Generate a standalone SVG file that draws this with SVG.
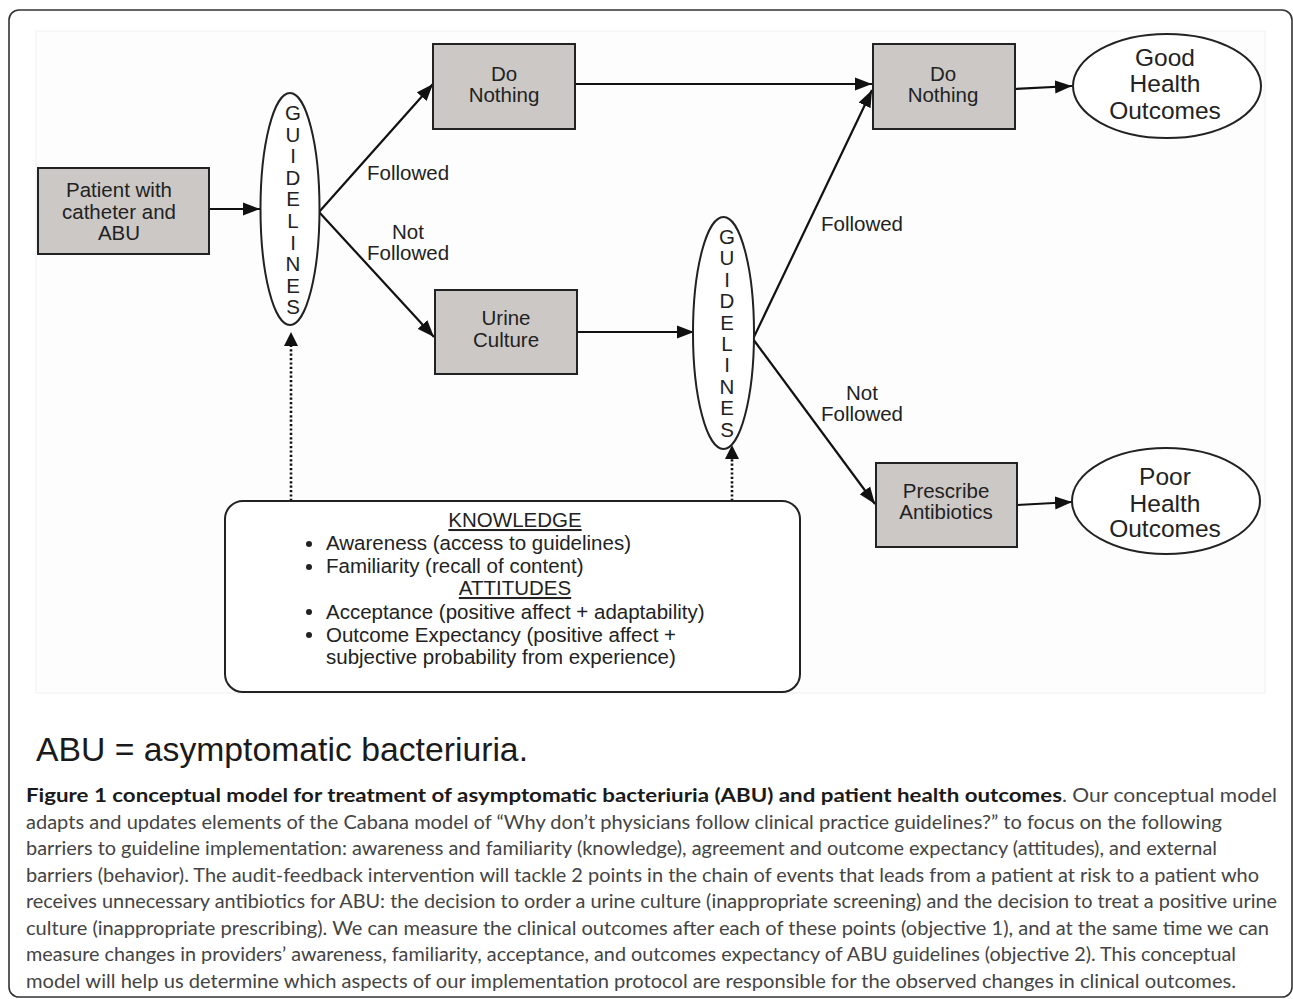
<svg xmlns="http://www.w3.org/2000/svg" width="1293" height="999" viewBox="0 0 1293 999">
<style>
.t{font-family:"Liberation Sans",Arial,sans-serif;font-size:20.5px;fill:#222;}
.c{text-anchor:middle;}
.g{font-family:"Liberation Sans",Arial,sans-serif;font-size:20.5px;fill:#222;text-anchor:middle;}
.o{font-family:"Liberation Sans",Arial,sans-serif;font-size:24.5px;fill:#222;text-anchor:middle;}
.box{fill:#cbc8c6;stroke:#222;stroke-width:2;}
.ell{fill:#fff;stroke:#222;stroke-width:2;}
.ln{fill:none;stroke:#111;stroke-width:2.2;}
.dot{fill:none;stroke:#111;stroke-width:2.6;stroke-dasharray:2.2 2.2;}
.cap{font-family:Lato,"Open Sans",sans-serif;font-size:18.5px;fill:#444;}
.capb{font-family:Lato,"Open Sans",sans-serif;font-size:18.5px;fill:#1a1a1a;font-weight:bold;}
</style>
<defs>
<marker id="ah" markerUnits="userSpaceOnUse" markerWidth="18" markerHeight="14" refX="17" refY="7" orient="auto">
<path d="M0,0.5 L17,7 L0,13.5 z" fill="#111"/>
</marker>
</defs>
<rect x="0" y="0" width="1293" height="999" fill="#fff"/>
<rect x="9" y="10" width="1283" height="987" rx="10" fill="none" stroke="#333" stroke-width="1.6"/>
<rect x="36" y="31" width="1229" height="662" fill="#fdfdfd" stroke="#efefef" stroke-width="1"/>

<g id="connectors">
<line class="ln" x1="209" y1="209" x2="260" y2="209" marker-end="url(#ah)"/>
<line class="ln" x1="319" y1="212" x2="433" y2="84" marker-end="url(#ah)"/>
<line class="ln" x1="319" y1="212" x2="434" y2="337" marker-end="url(#ah)"/>
<line class="ln" x1="575" y1="84" x2="872" y2="84" marker-end="url(#ah)"/>
<line class="ln" x1="577" y1="332" x2="694" y2="332" marker-end="url(#ah)"/>
<line class="ln" x1="753" y1="339" x2="872" y2="90" marker-end="url(#ah)"/>
<line class="ln" x1="753" y1="339" x2="875" y2="504" marker-end="url(#ah)"/>
<line class="ln" x1="1015" y1="89" x2="1072" y2="86" marker-end="url(#ah)"/>
<line class="ln" x1="1017" y1="505" x2="1072" y2="502" marker-end="url(#ah)"/>
<line class="dot" x1="291" y1="501" x2="291" y2="346"/>
<path d="M284,346 L291,332 L298,346 z" fill="#111"/>
<line class="dot" x1="732" y1="501" x2="732" y2="459"/>
<path d="M725,459 L732,445 L739,459 z" fill="#111"/>
<text class="t" x="367" y="180">Followed</text>
<text class="t c" x="408" y="239">Not</text>
<text class="t" x="367" y="260">Followed</text>
<text class="t c" x="862" y="231">Followed</text>
<text class="t c" x="862" y="400">Not</text>
<text class="t c" x="862" y="421">Followed</text>
</g>

<g id="patient">
<rect class="box" x="38" y="168" width="171" height="86"/>
<text class="t c" x="119" y="197">Patient with</text>
<text class="t c" x="119" y="218.5">catheter and</text>
<text class="t c" x="119" y="239.5">ABU</text>
</g>

<g id="guidelines1">
<ellipse class="ell" cx="290" cy="209" rx="29.5" ry="116"/>
<text class="g" x="293" y="120">G</text>
<text class="g" x="293" y="141.6">U</text>
<text class="g" x="293" y="163.2">I</text>
<text class="g" x="293" y="184.8">D</text>
<text class="g" x="293" y="206.4">E</text>
<text class="g" x="293" y="228">L</text>
<text class="g" x="293" y="249.6">I</text>
<text class="g" x="293" y="271.2">N</text>
<text class="g" x="293" y="292.8">E</text>
<text class="g" x="293" y="314.4">S</text>
</g>

<g id="donothing1">
<rect class="box" x="433" y="44" width="142" height="85"/>
<text class="t c" x="504" y="81">Do</text>
<text class="t c" x="504" y="102">Nothing</text>
</g>

<g id="urine">
<rect class="box" x="435" y="290" width="142" height="84"/>
<text class="t c" x="506" y="325">Urine</text>
<text class="t c" x="506" y="346.5">Culture</text>
</g>

<g id="guidelines2">
<ellipse class="ell" cx="723.5" cy="333" rx="30.5" ry="116"/>
<text class="g" x="727" y="244">G</text>
<text class="g" x="727" y="265.4">U</text>
<text class="g" x="727" y="286.8">I</text>
<text class="g" x="727" y="308.2">D</text>
<text class="g" x="727" y="329.6">E</text>
<text class="g" x="727" y="351">L</text>
<text class="g" x="727" y="372.4">I</text>
<text class="g" x="727" y="393.8">N</text>
<text class="g" x="727" y="415.2">E</text>
<text class="g" x="727" y="436.6">S</text>
</g>

<g id="donothing2">
<rect class="box" x="873" y="44" width="142" height="85"/>
<text class="t c" x="943" y="81">Do</text>
<text class="t c" x="943" y="102">Nothing</text>
</g>

<g id="prescribe">
<rect class="box" x="876" y="463" width="141" height="84"/>
<text class="t c" x="946" y="498">Prescribe</text>
<text class="t c" x="946" y="519">Antibiotics</text>
</g>

<g id="good">
<ellipse class="ell" cx="1167" cy="86" rx="94" ry="52"/>
<text class="o" x="1165" y="66">Good</text>
<text class="o" x="1165" y="92">Health</text>
<text class="o" x="1165" y="119">Outcomes</text>
</g>

<g id="poor">
<ellipse class="ell" cx="1166" cy="501" rx="94" ry="53"/>
<text class="o" x="1165" y="485">Poor</text>
<text class="o" x="1165" y="512">Health</text>
<text class="o" x="1165" y="537">Outcomes</text>
</g>

<g id="knowledge">
<rect x="225" y="501" width="575" height="191" rx="18" fill="#fff" stroke="#222" stroke-width="2"/>
<text class="t c" x="515" y="527" text-decoration="underline">KNOWLEDGE</text>
<circle cx="309" cy="544" r="3" fill="#222"/>
<text class="t" x="326" y="550">Awareness (access to guidelines)</text>
<circle cx="309" cy="567" r="3" fill="#222"/>
<text class="t" x="326" y="573">Familiarity (recall of content)</text>
<text class="t c" x="515" y="595" text-decoration="underline">ATTITUDES</text>
<circle cx="309" cy="612" r="3" fill="#222"/>
<text class="t" x="326" y="618.5">Acceptance (positive affect + adaptability)</text>
<circle cx="309" cy="635" r="3" fill="#222"/>
<text class="t" x="326" y="641.5">Outcome Expectancy (positive affect +</text>
<text class="t" x="326" y="663.5">subjective probability from experience)</text>
</g>

<g id="caption">
<text x="36" y="761" font-family="Liberation Sans, Arial, sans-serif" font-size="33" fill="#1a1a1a" textLength="492" lengthAdjust="spacingAndGlyphs">ABU = asymptomatic bacteriuria.</text>
<text class="capb" x="26" y="802" textLength="1036" lengthAdjust="spacingAndGlyphs">Figure 1 conceptual model for treatment of asymptomatic bacteriuria (ABU) and patient health outcomes</text>
<text class="cap" x="1062" y="802" textLength="215" lengthAdjust="spacingAndGlyphs">. Our conceptual model</text>
<text class="cap" x="26" y="828.5" textLength="1196" lengthAdjust="spacingAndGlyphs">adapts and updates elements of the Cabana model of “Why don’t physicians follow clinical practice guidelines?” to focus on the following</text>
<text class="cap" x="26" y="855" textLength="1191" lengthAdjust="spacingAndGlyphs">barriers to guideline implementation: awareness and familiarity (knowledge), agreement and outcome expectancy (attitudes), and external</text>
<text class="cap" x="26" y="881.5" textLength="1233" lengthAdjust="spacingAndGlyphs">barriers (behavior). The audit-feedback intervention will tackle 2 points in the chain of events that leads from a patient at risk to a patient who</text>
<text class="cap" x="26" y="908" textLength="1251" lengthAdjust="spacingAndGlyphs">receives unnecessary antibiotics for ABU: the decision to order a urine culture (inappropriate screening) and the decision to treat a positive urine</text>
<text class="cap" x="26" y="934.5" textLength="1243" lengthAdjust="spacingAndGlyphs">culture (inappropriate prescribing). We can measure the clinical outcomes after each of these points (objective 1), and at the same time we can</text>
<text class="cap" x="26" y="961" textLength="1210" lengthAdjust="spacingAndGlyphs">measure changes in providers’ awareness, familiarity, acceptance, and outcomes expectancy of ABU guidelines (objective 2). This conceptual</text>
<text class="cap" x="26" y="987.5" textLength="1210" lengthAdjust="spacingAndGlyphs">model will help us determine which aspects of our implementation protocol are responsible for the observed changes in clinical outcomes.</text>
</g>
</svg>
